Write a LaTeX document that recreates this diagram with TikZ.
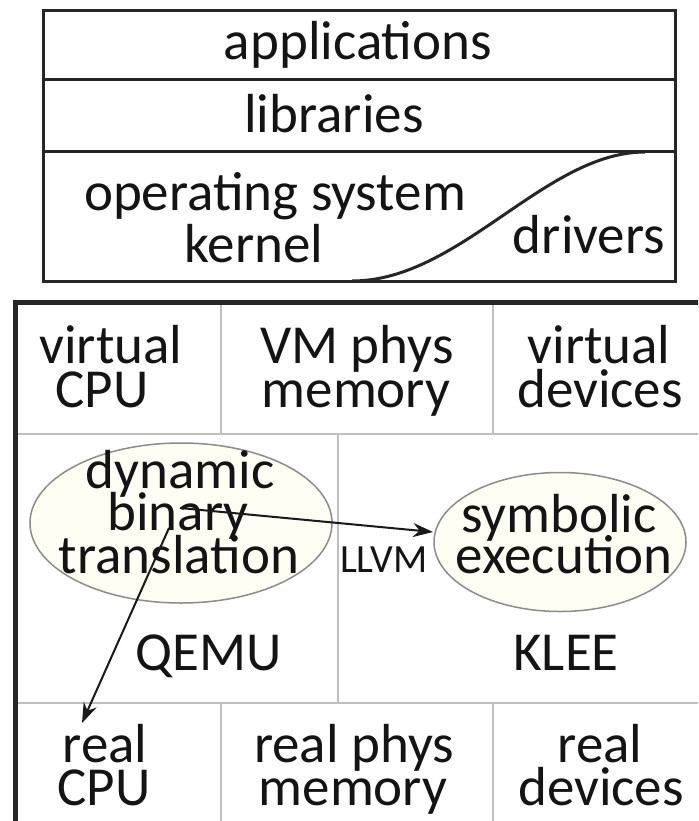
\documentclass[tikz,border=0pt]{standalone}
\usepackage{fontspec}
\setmainfont{Carlito}
\usetikzlibrary{arrows.meta,shapes.geometric}
\begin{document}
\begin{tikzpicture}[x=1pt,y=-1pt,
  txt/.style={inner sep=0pt, anchor=base, text=black!92, font=\fontsize{55}{60}\selectfont},
  small/.style={inner sep=0pt, anchor=base, text=black!92, font=\fontsize{40}{44}\selectfont},
  frame/.style={draw=black!85, line width=3pt},
  outer/.style={draw=black!85, line width=5pt},
  gridline/.style={draw=black!25, line width=2pt},
  blob/.style={ellipse, draw=black!45, line width=1.5pt, fill=yellow!4, inner sep=0pt},
  arr/.style={-{Stealth[length=20pt,width=14pt]}, line width=2pt, draw=black!90}]
\useasboundingbox (0,0) rectangle (698,821);
\fill[white] (0,0) rectangle (698,821);
\clip (0,0) rectangle (698,821);

% ---- software stack ----
\draw[frame] (43,11) rectangle (675,281);
\draw[frame] (43,80) -- (675,80);
\draw[frame] (43,152) -- (675,152);
\draw[frame] (352,281) .. controls (460,281) and (545,152) .. (645,152);

\node[txt] (app) at (358,60) {applications};
\node[txt] (lib) at (334,133) {libraries};
\node[txt] (os1) at (275,210) {operating system};
\node[txt] (os2) at (254,262) {kernel};
\node[txt] (drv) at (589,253) {drivers};

% ---- S2E layers ----
\draw[gridline] (15,434) -- (710,434);
\draw[gridline] (15,703) -- (710,703);
\draw[gridline] (221,302) -- (221,434);
\draw[gridline] (493,302) -- (493,434);
\draw[gridline] (338,434) -- (338,703);
\draw[gridline] (221,703) -- (221,830);
\draw[gridline] (493,703) -- (493,830);
\draw[outer] (15,302) rectangle (720,845);

\node[blob, minimum width=302pt, minimum height=160pt] (dbt) at (181,523) {};
\node[blob, minimum width=252pt, minimum height=139pt] (se) at (560,542) {};

\node[txt] (vc1) at (111,363) {virtual};
\node[txt] (vc2) at (102,407) {CPU};
\node[txt] (vm1) at (357,363) {VM phys};
\node[txt] (vm2) at (356,407) {memory};
\node[txt] (vd1) at (599,363) {virtual};
\node[txt] (vd2) at (600,407) {devices};

\node[txt] (d1) at (180,488) {dynamic};
\node[txt] (d2) at (178,530) {binary};
\node[txt] (d3) at (179,573) {translation};
\node[txt] (s1) at (559,532) {symbolic};
\node[txt] (s2) at (564,573) {execution};
\node[small] (llvm) at (384,572) {LLVM};
\node[txt] (qemu) at (209,670) {QEMU};
\node[txt] (klee) at (566,670) {KLEE};

\node[txt] (rc1) at (105,762) {real};
\node[txt] (rc2) at (104,805) {CPU};
\node[txt] (rm1) at (354,762) {real phys};
\node[txt] (rm2) at (353,805) {memory};
\node[txt] (rd1) at (600,762) {real};
\node[txt] (rd2) at (601,805) {devices};

\coordinate (a1s) at (180,508);
\coordinate (a1e) at (433,532);
\coordinate (a2s) at (169,528);
\coordinate (a2e) at (82,723);
\draw[arr] (a1s) -- (a1e);
\draw[arr] (a2s) -- (a2e);
\end{tikzpicture}
\end{document}
